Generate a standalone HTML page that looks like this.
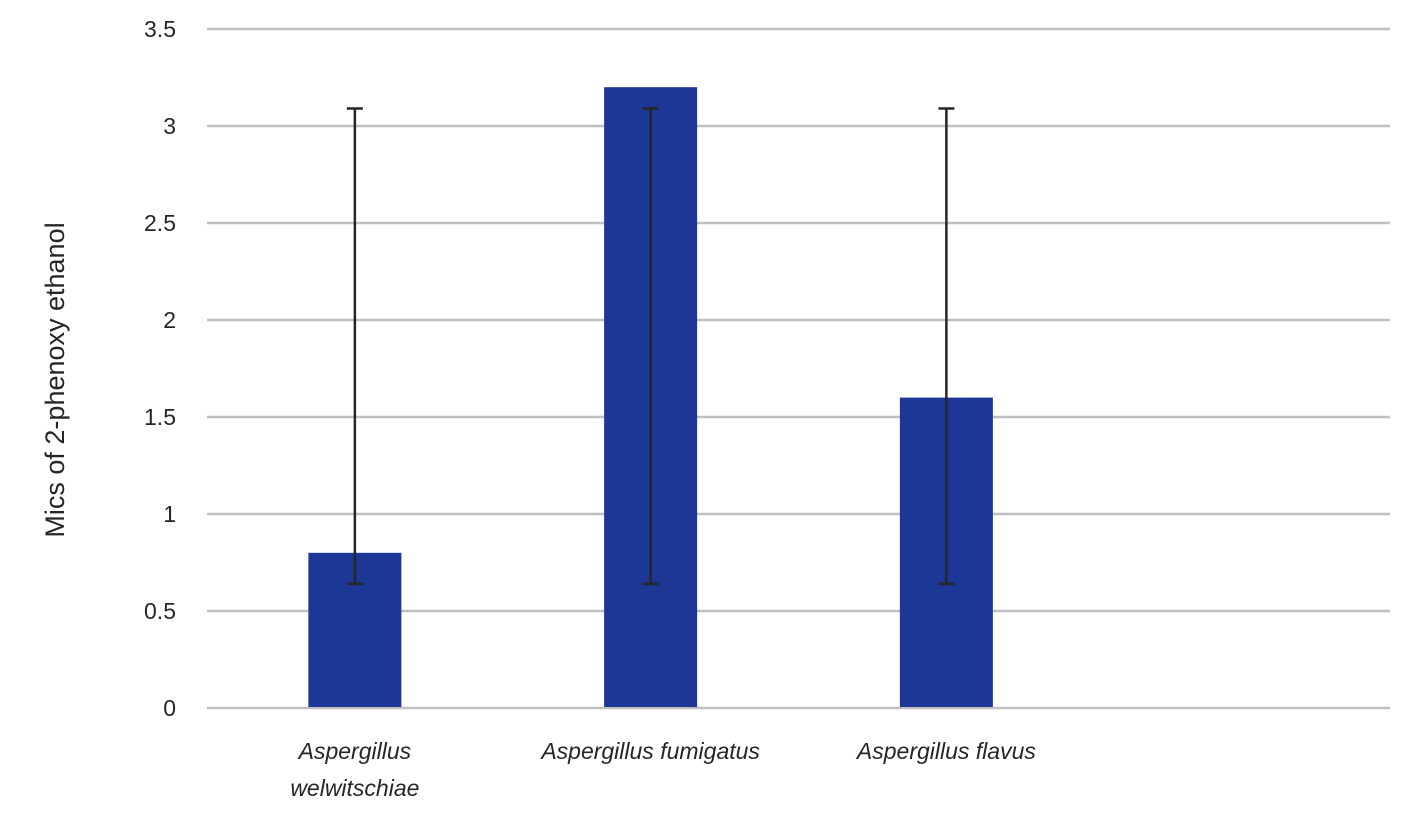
<!DOCTYPE html>
<html><head><meta charset="utf-8"><style>
body{margin:0;background:#fff;}
svg{display:block;font-family:"Liberation Sans",sans-serif;}
</style></head><body>
<svg id="chart" width="1408" height="822">
<g id="grid"></g>
<g id="yticks"></g>
<g id="bars"></g>
<g id="errs"></g>
<g id="xlabels"></g>
<text transform="translate(64,380) rotate(-90)" text-anchor="middle" font-size="27" fill="#262626">Mics of 2-phenoxy ethanol</text>
</svg>
<script>
const categories=[["Aspergillus","welwitschiae"],["Aspergillus fumigatus"],["Aspergillus flavus"],[]];
const values=[0.8,3.2,1.6,null];
const errUpper=[3.09,3.09,3.09,null];
const errLower=[0.64,0.64,0.64,null];
const yTicks=[0,0.5,1,1.5,2,2.5,3,3.5];
const yTickLabels=["0","0.5","1","1.5","2","2.5","3","3.5"];
const NS="http://www.w3.org/2000/svg";
const x0=207,x1=1390,yBase=708,yTop=29,yMax=3.5;
const y=v=>yBase-(v/yMax)*(yBase-yTop);
const band=(x1-x0)/categories.length;
const cx=i=>x0+band*(i+0.5);
function mk(t,a,p){const e=document.createElementNS(NS,t);for(const k in a)e.setAttribute(k,a[k]);p.appendChild(e);return e;}
const G=document.getElementById('grid'),YT=document.getElementById('yticks'),B=document.getElementById('bars'),E=document.getElementById('errs'),XL=document.getElementById('xlabels');
yTicks.forEach((t,i)=>{
 const l=mk('line',{x1:x0,x2:x1,y1:y(t),y2:y(t),stroke:'#bfbfbf','stroke-width':2.5},G);
 
 
 const tx=mk('text',{x:176,y:y(t)+8,'text-anchor':'end','font-size':23,fill:'#262626'},YT);
 tx.textContent=yTickLabels[i];
 
 
});
const bw=93;
values.forEach((v,i)=>{
 if(v==null)return;
 const r=mk('rect',{x:cx(i)-bw/2,y:y(v),width:bw,height:yBase-y(v)-1,fill:'#1c3795'},B);
 
 
 const g=mk('g',{stroke:'#262626','stroke-width':2.5},E);
 
 
 mk('line',{x1:cx(i),x2:cx(i),y1:y(errUpper[i]),y2:y(errLower[i])},g);
 mk('line',{x1:cx(i)-8,x2:cx(i)+8,y1:y(errUpper[i]),y2:y(errUpper[i])},g);
 mk('line',{x1:cx(i)-8,x2:cx(i)+8,y1:y(errLower[i]),y2:y(errLower[i])},g);
});
categories.forEach((c,i)=>{
 c.forEach((line,j)=>{
  const t=mk('text',{x:cx(i),y:759+j*37,'text-anchor':'middle','font-size':23,'font-style':'italic',fill:'#262626'},XL);
  t.textContent=line;
  
  
 });
});
</script>
</body></html>
